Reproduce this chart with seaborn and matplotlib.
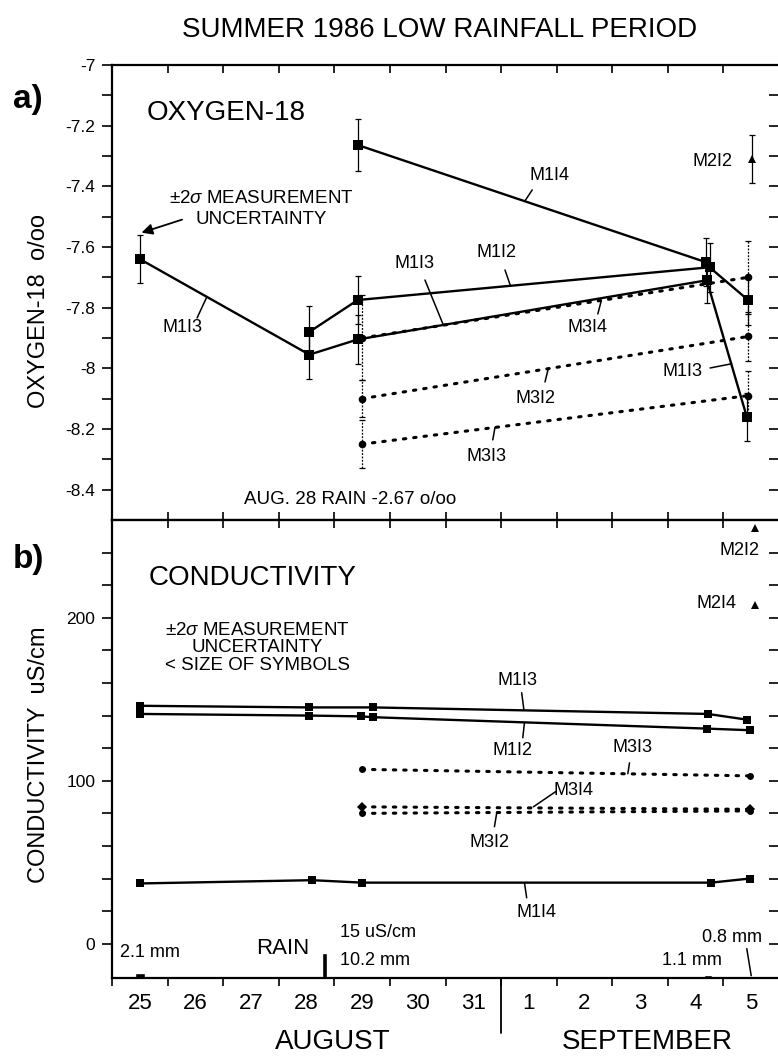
import matplotlib.pyplot as plt
import numpy as np
import pandas as pd
import seaborn as sns

# x values are days counted from 0:00 on Aug 25 (Sept 1 starts at 7)
day_labels = ['25', '26', '27', '28', '29', '30', '31', '1', '2', '3', '4', '5']

# ---- a) oxygen-18, o/oo ----
o18_m1i3_x = [0.5, 3.55, 4.42, 10.7, 11.42]
o18_m1i3_y = [-7.64, -7.955, -7.905, -7.71, -8.16]
o18_m1i3_err = [0.08, 0.08, 0.08, 0.075, 0.08]

o18_m1i2_x = [3.55, 4.42, 10.75, 11.45]
o18_m1i2_y = [-7.88, -7.775, -7.667, -7.776]
o18_m1i2_err = [0.085, 0.08, 0.08, 0.08]

o18_m1i4_x = [4.42, 10.68]
o18_m1i4_y = [-7.264, -7.65]
o18_m1i4_err = [0.085, 0.08]

o18_m3i4_x = [4.5, 11.45]
o18_m3i4_y = [-7.90, -7.70]
o18_m3i4_err = [0.14, 0.12]

o18_m3i2_x = [4.5, 11.45]
o18_m3i2_y = [-8.10, -7.895]
o18_m3i2_err = [0.06, 0.08]

o18_m3i3_x = [4.5, 11.45]
o18_m3i3_y = [-8.25, -8.09]
o18_m3i3_err = [0.08, 0.08]

o18_m2i2_x = [11.52]
o18_m2i2_y = [-7.31]
o18_m2i2_err = [0.08]

o18_tick_vals = [-8.4, -8.2, -8.0, -7.8, -7.6, -7.4, -7.2, -7.0]
o18_tick_labels = ['-8.4', '-8.2', '-8', '-7.8', '-7.6', '-7.4', '-7.2', '-7']

# ---- b) conductivity, uS/cm ----
cond_m1i3_x = [0.5, 3.55, 4.69, 10.72, 11.42]
cond_m1i3_y = [146, 145, 145, 141, 137.5]

cond_m1i2_x = [0.5, 3.55, 4.48, 4.69, 10.7, 11.48]
cond_m1i2_y = [141, 140, 139.5, 139, 132, 131]

cond_m1i4_x = [0.5, 3.6, 4.5, 10.78, 11.47]
cond_m1i4_y = [37, 39, 37.5, 37.5, 40]

cond_m3i3_x = [4.5, 11.47]
cond_m3i3_y = [107, 103]

cond_m3i4_x = [4.5, 11.47]
cond_m3i4_y = [84, 82.5]

cond_m3i2_x = [4.5, 11.47]
cond_m3i2_y = [80, 81.5]

cond_m2i2_x = [11.56]
cond_m2i2_y = [255]
cond_m2i4_x = [11.56]
cond_m2i4_y = [208]

cond_tick_vals = [0, 100, 200]
cond_tick_labels = ['0', '100', '200']

# rain, mm
rain_x = [0.5, 3.82, 10.72, 11.5]
rain_mm = [2.1, 10.2, 1.1, 0.8]
rain_w = [0.18, 0.09, 0.15, 0.1]


def frame(x, y, name):
    return pd.DataFrame({'day': x, 'value': y, 'well': name})


def draw(ax, x, y, name, dotted=False, marker='s', ms=6.5):
    df = frame(x, y, name)
    ls = (0, (0.8, 2.6)) if dotted else '-'
    lw = 2.2 if dotted else 1.7
    sns.lineplot(data=df, x='day', y='value', ax=ax, color='black', marker=marker,
                 markersize=ms, markeredgewidth=0, linewidth=lw, linestyle=ls,
                 dash_capstyle='round', estimator=None, sort=False, errorbar=None)


def bars(ax, x, y, err, dotted=False):
    eb = ax.errorbar(x, y, yerr=err, fmt='none', ecolor='black', elinewidth=0.9,
                     capsize=2.5, capthick=0.9)
    if dotted:
        for lc in eb[2]:
            lc.set_linestyle((0, (1.5, 1.2)))


def leader(ax, p0, p1):
    ax.annotate('', xy=p1, xytext=p0,
                arrowprops=dict(arrowstyle='-', lw=1.1, color='black', shrinkA=0, shrinkB=0))


sns.set_style("ticks", {'axes.edgecolor': 'black', 'xtick.color': 'black', 'ytick.color': 'black',
                        'text.color': 'black', 'axes.labelcolor': 'black'})
plt.rcParams['font.family'] = ['Liberation Sans', 'DejaVu Sans']
plt.rcParams['mathtext.fontset'] = 'custom'
plt.rcParams['mathtext.it'] = 'Liberation Sans:italic'
plt.rcParams['mathtext.rm'] = 'Liberation Sans'

fig = plt.figure(figsize=(7.78, 10.59), dpi=100)
ax1 = fig.add_axes([0.144, 0.509, 0.8573, 0.4297])
ax2 = fig.add_axes([0.144, 0.0765, 0.8573, 0.4325])

# ---------------- panel a ----------------
bars(ax1, o18_m1i3_x, o18_m1i3_y, o18_m1i3_err)
bars(ax1, o18_m1i2_x, o18_m1i2_y, o18_m1i2_err)
bars(ax1, o18_m1i4_x, o18_m1i4_y, o18_m1i4_err)
bars(ax1, o18_m3i4_x, o18_m3i4_y, o18_m3i4_err, dotted=True)
bars(ax1, o18_m3i2_x, o18_m3i2_y, o18_m3i2_err, dotted=True)
bars(ax1, o18_m3i3_x, o18_m3i3_y, o18_m3i3_err, dotted=True)
bars(ax1, o18_m2i2_x, o18_m2i2_y, o18_m2i2_err)

draw(ax1, o18_m3i4_x, o18_m3i4_y, 'M3I4', dotted=True, marker='o', ms=5.5)
draw(ax1, o18_m3i2_x, o18_m3i2_y, 'M3I2', dotted=True, marker='o', ms=5.5)
draw(ax1, o18_m3i3_x, o18_m3i3_y, 'M3I3', dotted=True, marker='o', ms=5.5)
draw(ax1, o18_m1i3_x, o18_m1i3_y, 'M1I3')
draw(ax1, o18_m1i2_x, o18_m1i2_y, 'M1I2')
draw(ax1, o18_m1i4_x, o18_m1i4_y, 'M1I4')
draw(ax1, o18_m2i2_x, o18_m2i2_y, 'M2I2', marker='^', ms=6)

ax1.set_xlim(0, 12)
ax1.set_ylim(-8.5, -7.0)

fs = 13
ax1.text(0.63, -7.158, 'OXYGEN-18', fontsize=20, va='center', ha='left')
ax1.text(2.69, -7.475, '±2$\\it{σ}$ MEASUREMENT\nUNCERTAINTY', fontsize=13.5,
         ha='center', va='center', linespacing=1.3)
ax1.annotate('', xy=(0.53, -7.553), xytext=(1.26, -7.51),
             arrowprops=dict(arrowstyle='-|>', lw=1.3, color='black', mutation_scale=16,
                             shrinkA=0, shrinkB=0))
ax1.text(2.37, -8.434, 'AUG. 28 RAIN -2.67 o/oo', fontsize=13.5, va='center', ha='left')

ax1.text(1.26, -7.867, 'M1I3', fontsize=fs, ha='center', va='center')
leader(ax1, (1.53, -7.834), (1.70, -7.767))
ax1.text(7.87, -7.363, 'M1I4', fontsize=fs, ha='center', va='center')
leader(ax1, (7.56, -7.412), (7.43, -7.448))
ax1.text(6.92, -7.617, 'M1I2', fontsize=fs, ha='center', va='center')
leader(ax1, (7.07, -7.676), (7.17, -7.729))
ax1.text(5.45, -7.653, 'M1I3', fontsize=fs, ha='center', va='center')
leader(ax1, (5.63, -7.709), (5.96, -7.857))
ax1.text(8.56, -7.867, 'M3I4', fontsize=fs, ha='center', va='center')
leader(ax1, (8.74, -7.821), (8.80, -7.779))
ax1.text(10.81, -7.32, 'M2I2', fontsize=fs, ha='center', va='center')
ax1.text(7.61, -8.098, 'M3I2', fontsize=fs, ha='center', va='center')
leader(ax1, (7.79, -8.045), (7.85, -8.00))
ax1.text(6.74, -8.292, 'M3I3', fontsize=fs, ha='center', va='center')
leader(ax1, (6.85, -8.236), (6.89, -8.195))
ax1.text(10.27, -8.012, 'M1I3', fontsize=fs, ha='center', va='center')
leader(ax1, (10.76, -7.999), (11.15, -7.985))

# ---------------- panel b ----------------
ax2.bar(rain_x, np.array(rain_mm) * 1.5, bottom=-21, width=rain_w, color='black')

draw(ax2, cond_m3i3_x, cond_m3i3_y, 'M3I3', dotted=True, marker='o', ms=5)
draw(ax2, cond_m3i4_x, cond_m3i4_y, 'M3I4', dotted=True, marker='D', ms=5)
draw(ax2, cond_m3i2_x, cond_m3i2_y, 'M3I2', dotted=True, marker='o', ms=5)
draw(ax2, cond_m1i3_x, cond_m1i3_y, 'M1I3', ms=6)
draw(ax2, cond_m1i2_x, cond_m1i2_y, 'M1I2', ms=6)
draw(ax2, cond_m1i4_x, cond_m1i4_y, 'M1I4', ms=6)
draw(ax2, cond_m2i2_x, cond_m2i2_y, 'M2I2', marker='^', ms=5.5)
draw(ax2, cond_m2i4_x, cond_m2i4_y, 'M2I4', marker='^', ms=5.5)

ax2.set_xlim(0, 12)
ax2.set_ylim(-21, 260)

ax2.text(0.65, 224.5, 'CONDUCTIVITY', fontsize=20, va='center', ha='left')
ax2.text(2.62, 181.6, '±2$\\it{σ}$ MEASUREMENT\nUNCERTAINTY\n< SIZE OF SYMBOLS', fontsize=13.5,
         ha='center', va='center', linespacing=1.05)
ax2.text(7.30, 161.3, 'M1I3', fontsize=fs, ha='center', va='center')
leader(ax2, (7.37, 154), (7.41, 143.5))
ax2.text(7.21, 118.4, 'M1I2', fontsize=fs, ha='center', va='center')
leader(ax2, (7.39, 126.4), (7.42, 135.5))
ax2.text(9.37, 120.2, 'M3I3', fontsize=fs, ha='center', va='center')
leader(ax2, (9.31, 111), (9.28, 104.3))
ax2.text(8.30, 93.9, 'M3I4', fontsize=fs, ha='center', va='center')
leader(ax2, (7.98, 93.3), (7.58, 84.0))
ax2.text(6.79, 62, 'M3I2', fontsize=fs, ha='center', va='center')
leader(ax2, (6.88, 71.8), (6.92, 80.0))
ax2.text(7.64, 19, 'M1I4', fontsize=fs, ha='center', va='center')
leader(ax2, (7.46, 28.2), (7.42, 37.5))
ax2.text(11.65, 241, 'M2I2', fontsize=fs, ha='right', va='center')
ax2.text(11.24, 208.6, 'M2I4', fontsize=fs, ha='right', va='center')

ax2.text(0.69, -5.5, '2.1 mm', fontsize=fs, ha='center', va='center')
ax2.text(3.07, -3.1, 'RAIN', fontsize=16, ha='center', va='center')
ax2.text(4.10, 6.7, '15 uS/cm', fontsize=fs, ha='left', va='center')
ax2.text(4.10, -10.4, '10.2 mm', fontsize=fs, ha='left', va='center')
ax2.text(11.69, 3.7, '0.8 mm', fontsize=fs, ha='right', va='center')
ax2.text(10.97, -10.4, '1.1 mm', fontsize=fs, ha='right', va='center')
leader(ax2, (11.42, -3), (11.50, -19.6))

# separator between August and September
ax2.axvline(7, ymin=-0.12, ymax=0, color='black', lw=1.3, clip_on=False)

# ---------------- axes & ticks ----------------
for ax in (ax1, ax2):
    ax.set_xlabel('')
    ax.set_ylabel('')
    for sp in ax.spines.values():
        sp.set_linewidth(1.6)
        sp.set_visible(True)
    ax.set_xticks(np.arange(0, 13))
    ax.tick_params(axis='y', which='both', direction='out', length=7, width=1.2,
                   labelsize=12.5, pad=5, left=True, right=False)

ax1.set_yticks(o18_tick_vals, labels=o18_tick_labels)
ax1.set_yticks(np.arange(-8.3, -7.0, 0.2), minor=True)
ax1.tick_params(axis='x', which='major', direction='in', length=6, width=1.2,
                top=True, bottom=True, labelbottom=False, labeltop=False)
ax1.tick_params(axis='x', which='minor', bottom=False, top=False)

ax2.set_yticks(cond_tick_vals, labels=cond_tick_labels)
ax2.set_yticks(np.arange(20, 241, 20), minor=True)
ax2.set_xticks(np.arange(0.5, 12, 1), labels=day_labels, minor=True)
ax2.tick_params(axis='x', which='major', direction='out', length=6, width=1.2,
                top=False, bottom=True, labelbottom=False)
ax2.tick_params(axis='x', which='minor', length=0, labelsize=16, pad=11)
top2 = ax2.secondary_xaxis('top')
top2.set_xticks(np.arange(0, 13))
top2.tick_params(direction='in', length=6, width=1.2, labeltop=False)

for ax, yt in ((ax1, np.arange(-8.4, -6.95, 0.1)), (ax2, np.arange(0, 241, 20))):
    right = ax.secondary_yaxis('right')
    right.set_yticks(yt)
    right.tick_params(direction='in', length=7, width=1.2, labelright=False)

ax1.set_ylabel('OXYGEN-18  o/oo', fontsize=17)
ax1.yaxis.set_label_coords(-0.093, 0.46)
ax2.set_ylabel('CONDUCTIVITY  uS/cm', fontsize=17)
ax2.yaxis.set_label_coords(-0.093, 0.487)

fig.text(0.5656, 0.9717, 'SUMMER 1986 LOW RAINFALL PERIOD', fontsize=20, ha='center', va='center')
fig.text(0.036, 0.9056, 'a)', fontsize=24, fontweight='bold', ha='center', va='center')
fig.text(0.036, 0.4712, 'b)', fontsize=24, fontweight='bold', ha='center', va='center')
fig.text(0.428, 0.0161, 'AUGUST', fontsize=20, ha='center', va='center')
fig.text(0.8316, 0.0161, 'SEPTEMBER', fontsize=20, ha='center', va='center')

fig.savefig('out.png', dpi=100)
plt.close(fig)
